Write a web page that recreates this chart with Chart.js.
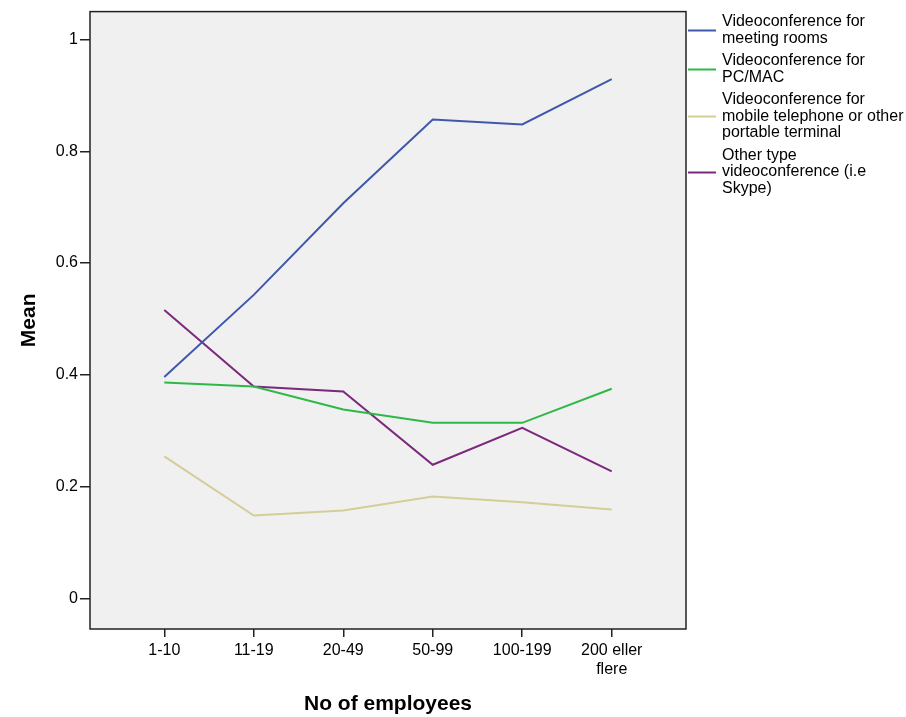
<!DOCTYPE html>
<html>
<head>
<meta charset="utf-8">
<script src="https://cdn.jsdelivr.net/npm/chart.js@4"></script>
<style>
  html, body { margin: 0; padding: 0; background: #fff; }
  #wrap { width: 906px; height: 717px; }
</style>
</head>
<body>
<div id="wrap"><canvas id="chart" width="906" height="717"></canvas></div>
<script>
// categories and series
const categories = ['1-10', '11-19', '20-49', '50-99', '100-199', ['200 eller', 'flere']];
const meetingRooms = [0.396, 0.543, 0.707, 0.857, 0.848, 0.929];
const pcMac = [0.386, 0.379, 0.338, 0.314, 0.314, 0.375];
const mobile = [0.254, 0.148, 0.157, 0.182, 0.172, 0.159];
const otherType = [0.516, 0.379, 0.370, 0.239, 0.305, 0.227];
const yTicks = [0, 0.2, 0.4, 0.6, 0.8, 1];

const seriesNames = [
    ['Videoconference for', 'meeting rooms'],
    ['Videoconference for', 'PC/MAC'],
    ['Videoconference for', 'mobile telephone or other', 'portable terminal'],
    ['Other type', 'videoconference (i.e', 'Skype)']
];
const colors = ['#3E58AC', '#2EB848', '#D3CE97', '#7C287D'];

const FONT = "'Liberation Sans', Arial, sans-serif";

function toPoints(arr) {
    return arr.map((v, i) => ({ x: i, y: v }));
}

// plot background and frame
const framePlugin = {
    id: 'frame',
    beforeDatasetsDraw(chart) {
        const a = chart.chartArea;
        const ctx = chart.ctx;
        ctx.save();
        ctx.fillStyle = '#F0F0F0';
        ctx.fillRect(a.left, a.top, a.right - a.left, a.bottom - a.top);
        ctx.restore();
    },
    afterDatasetsDraw(chart) {
        const a = chart.chartArea;
        const ctx = chart.ctx;
        ctx.save();
        ctx.strokeStyle = '#222';
        ctx.lineWidth = 1.5;
        ctx.strokeRect(a.left, a.top, a.right - a.left, a.bottom - a.top);
        ctx.restore();
    }
};

// legend on the right, with multi-line labels
const legendPlugin = {
    id: 'sideLegend',
    afterDraw(chart) {
        const a = chart.chartArea;
        const ctx = chart.ctx;
        const lineH = 16.5;
        let y = a.top + 10;
        ctx.save();
        ctx.font = '16px ' + FONT;
        ctx.textBaseline = 'middle';
        ctx.fillStyle = '#000';
        chart.data.datasets.forEach((ds, i) => {
            const lines = seriesNames[i];
            const mid = y + (lines.length - 1) * lineH / 2;
            ctx.strokeStyle = ds.borderColor;
            ctx.lineWidth = 2;
            ctx.beginPath();
            ctx.moveTo(a.right + 2, Math.round(mid) + 0.5);
            ctx.lineTo(a.right + 30, Math.round(mid) + 0.5);
            ctx.stroke();
            lines.forEach((t, k) => {
                ctx.fillText(t, a.right + 36, y + k * lineH);
            });
            y += lines.length * lineH + 6;
        });
        ctx.restore();
    }
};

const ctx = document.getElementById('chart').getContext('2d');
const chart = new Chart(ctx, {
    type: 'line',
    data: {
        datasets: [
            { label: seriesNames[0].join(' '), data: toPoints(meetingRooms), borderColor: colors[0] },
            { label: seriesNames[1].join(' '), data: toPoints(pcMac), borderColor: colors[1] },
            { label: seriesNames[2].join(' '), data: toPoints(mobile), borderColor: colors[2] },
            { label: seriesNames[3].join(' '), data: toPoints(otherType), borderColor: colors[3] }
        ]
    },
    options: {
        responsive: false,
        animation: false,
        layout: { padding: { top: 10, right: 220, left: 0, bottom: 0 } },
        elements: {
            line: { borderWidth: 2, tension: 0, fill: false },
            point: { radius: 0, hoverRadius: 0 }
        },
        plugins: {
            legend: { display: false },
            tooltip: { enabled: false }
        },
        scales: {
            x: {
                type: 'linear',
                min: -0.83,
                max: 5.83,
                afterBuildTicks: (scale) => {
                    scale.ticks = categories.map((c, i) => ({ value: i }));
                },
                afterFit: (scale) => { scale.height = 88; },
                grid: { drawOnChartArea: false, drawTicks: true, tickLength: 8, color: '#222', lineWidth: 1.5 },
                border: { display: false },
                ticks: {
                    autoSkip: false,
                    maxRotation: 0,
                    padding: 4,
                    color: '#000',
                    font: { family: FONT, size: 16 },
                    callback: (v) => categories[v]
                },
                title: {
                    display: true,
                    text: 'No of employees',
                    color: '#000',
                    font: { family: FONT, size: 21, weight: 'bold' },
                    padding: { top: 0, bottom: 0 }
                }
            },
            y: {
                min: -0.055,
                max: 1.05,
                afterBuildTicks: (scale) => {
                    scale.ticks = yTicks.map(v => ({ value: v }));
                },
                afterFit: (scale) => { scale.width = 90; },
                grid: { drawOnChartArea: false, drawTicks: true, tickLength: 10, color: '#222', lineWidth: 1.5 },
                border: { display: false },
                ticks: {
                    padding: 2,
                    color: '#000',
                    font: { family: FONT, size: 16 },
                    callback: (v) => String(v)
                },
                title: {
                    display: true,
                    text: 'Mean',
                    color: '#000',
                    font: { family: FONT, size: 21, weight: 'bold' },
                    padding: { top: 17, bottom: 0 }
                }
            }
        }
    },
    plugins: [framePlugin, legendPlugin]
});
</script>
</body>
</html>
